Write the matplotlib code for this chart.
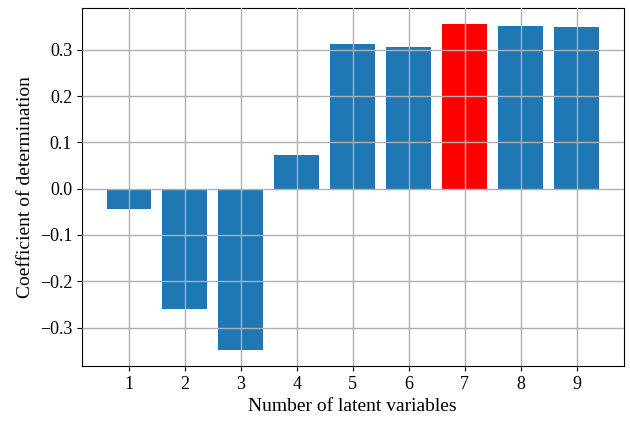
import matplotlib.pyplot as plt

plt.rcParams['font.family'] = ['Liberation Serif', 'DejaVu Serif']

n_latent = [1, 2, 3, 4, 5, 6, 7, 8, 9]
r2 = [-0.0445, -0.26, -0.348, 0.072, 0.312, 0.307, 0.355, 0.351, 0.349]
colors = ['#1f77b4'] * 9
colors[6] = 'red'

fig = plt.figure(figsize=(6.3, 4.21), dpi=100)
ax = fig.add_axes([0.130, 0.1306, 0.860, 0.850])

ax.bar(n_latent, r2, width=0.8, color=colors)
ax.set_axisbelow(False)
ax.grid(color='#b0b0b0', linewidth=1)
ax.set_xticks(n_latent)

ax.tick_params(labelsize=13)
ax.set_xlabel('Number of latent variables', fontsize=14)
ax.set_ylabel('Coefficient of determination', fontsize=14)

fig.savefig('out.png', dpi=100)
